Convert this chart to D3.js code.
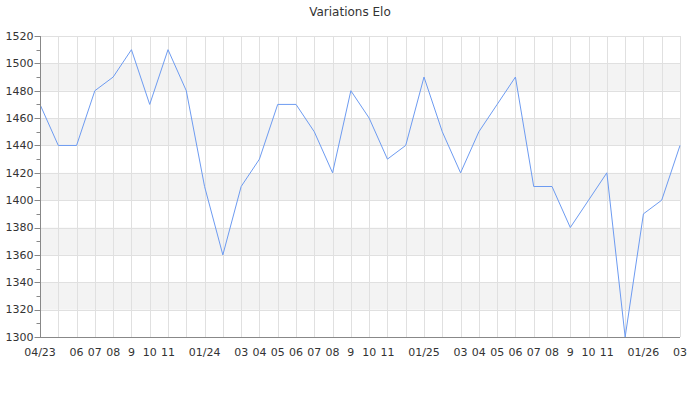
<!DOCTYPE html>
<html><head><meta charset="utf-8">
<script src="https://cdn.jsdelivr.net/npm/d3@7"></script>
<style>body{margin:0;background:#fff;font-family:"DejaVu Sans",sans-serif;}</style>
</head><body><svg id="c" width="700" height="400"></svg>
<script>
const months = ["2023-04","2023-05","2023-06","2023-07","2023-08","2023-09","2023-10","2023-11","2023-12",
"2024-01","2024-02","2024-03","2024-04","2024-05","2024-06","2024-07","2024-08","2024-09","2024-10","2024-11","2024-12",
"2025-01","2025-02","2025-03","2025-04","2025-05","2025-06","2025-07","2025-08","2025-09","2025-10","2025-11","2025-12",
"2026-01","2026-02","2026-03"];
const tickLabels = ["04/23","","06","07","08","9","10","11","",
"01/24","","03","04","05","06","07","08","9","10","11","",
"01/25","","03","04","05","06","07","08","9","10","11","",
"01/26","","03"];
const elo = [1470,1440,1440,1480,1490,1510,1470,1510,1480,
1410,1360,1410,1430,1470,1470,1450,1420,1480,1460,1430,1440,
1490,1450,1420,1450,1470,1490,1410,1410,1380,1400,1420,1300,
1390,1400,1440];
const yTicks = [1300,1320,1340,1360,1380,1400,1420,1440,1460,1480,1500,1520];
const title = "Variations Elo";

const svg = d3.select("#c");
const m = {l:40, r:680, t:36, b:337};
const x = d3.scalePoint().domain(months).range([m.l, m.r]);
const y = d3.scaleLinear().domain([1300,1520]).range([m.b, m.t]);

// bands
const bands = yTicks.filter((v,i)=> i<yTicks.length-1 && ((v-1300)/20)%2===1);
svg.append("g").selectAll("rect").data(bands).join("rect")
  .attr("x", m.l).attr("width", m.r-m.l)
  .attr("y", d=>y(d+20)).attr("height", d=>y(d)-y(d+20))
  .attr("fill","#f3f3f3");

// grid
svg.append("g").selectAll("line").data(yTicks).join("line")
  .attr("x1", m.l).attr("x2", m.r).attr("y1", d=>Math.round(y(d))+0.5).attr("y2", d=>Math.round(y(d))+0.5)
  .attr("stroke","#e0e0e0");
svg.append("g").selectAll("line").data(months).join("line")
  .attr("x1", d=>Math.round(x(d))+0.5).attr("x2", d=>Math.round(x(d))+0.5).attr("y1", m.t).attr("y2", m.b)
  .attr("stroke","#e0e0e0");

// line
svg.append("path").datum(elo)
  .attr("fill","none").attr("stroke","#6d9bf1").attr("stroke-width",1)
  .attr("d", d3.line().x((d,i)=>x(months[i])).y(d=>y(d)));

// y axis
const minor = d3.range(1310,1520,20);
const ya = svg.append("g").attr("transform",`translate(${m.l+0.5},0)`);
ya.append("line").attr("y1",m.t).attr("y2",m.b+0.5).attr("stroke","#888");
ya.selectAll("line.maj").data(yTicks).join("line").attr("class","maj")
  .attr("x1",-6).attr("x2",0).attr("y1",d=>Math.round(y(d))+0.5).attr("y2",d=>Math.round(y(d))+0.5).attr("stroke","#888");
ya.selectAll("line.min").data(minor).join("line").attr("class","min")
  .attr("x1",-4).attr("x2",0).attr("y1",d=>Math.round(y(d))+0.5).attr("y2",d=>Math.round(y(d))+0.5).attr("stroke","#888");
ya.selectAll("text").data(yTicks).join("text")
  .attr("x",-7).attr("y",d=>y(d)).attr("dy","0.35em").attr("text-anchor","end")
  .attr("font-size",11).attr("fill","#333").text(d=>d);

// x axis
svg.append("line").attr("x1",m.l).attr("x2",m.r).attr("y1",m.b+0.5).attr("y2",m.b+0.5).attr("stroke","#888");
svg.append("g").selectAll("text").data(months).join("text")
  .attr("x",d=>x(d)).attr("y",356).attr("text-anchor","middle")
  .attr("font-size",11).attr("fill","#333").text((d,i)=>tickLabels[i]);

svg.append("text").attr("x",350).attr("y",16).attr("text-anchor","middle")
  .attr("font-size",12).attr("fill","#333").text(title);
</script></body></html>
